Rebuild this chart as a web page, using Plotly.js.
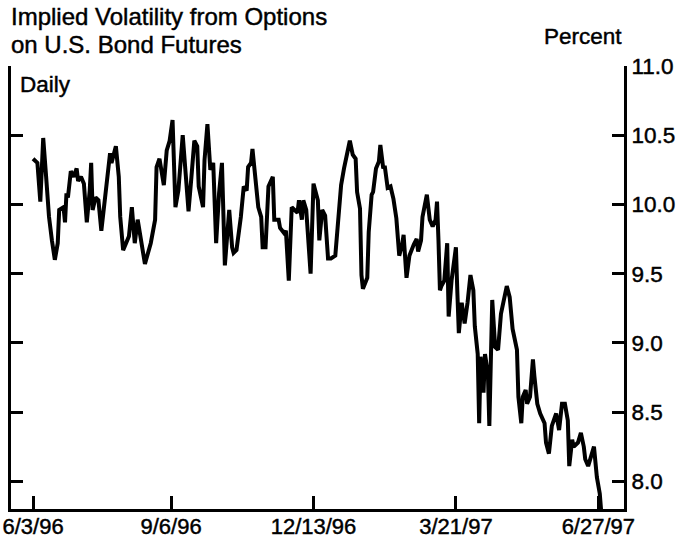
<!DOCTYPE html>
<html>
<head>
<meta charset="utf-8">
<script src="https://cdn.plot.ly/plotly-3.0.1.min.js"></script>
<style>
html,body{margin:0;padding:0;background:#fff;}
#chart{width:678px;height:540px;}
#chart svg text{stroke:#000;stroke-width:0.45px;}
</style>
</head>
<body>
<div id="chart"></div>
<script>
// Dates (daily series, sampled from the chart) and implied volatility, percent
const dates = [
"1996-06-03","1996-06-06","1996-06-08","1996-06-10","1996-06-12","1996-06-14","1996-06-16","1996-06-18","1996-06-20","1996-06-21",
"1996-06-24","1996-06-25","1996-06-26","1996-06-27","1996-06-29","1996-07-01","1996-07-03","1996-07-04","1996-07-06","1996-07-08",
"1996-07-10","1996-07-12","1996-07-13","1996-07-14","1996-07-16","1996-07-18","1996-07-20","1996-07-22","1996-07-24","1996-07-26",
"1996-07-27","1996-07-30","1996-08-01","1996-08-02","1996-08-04","1996-08-06","1996-08-08","1996-08-10","1996-08-12","1996-08-14",
"1996-08-16","1996-08-19","1996-08-23","1996-08-26","1996-08-27","1996-08-29","1996-09-01","1996-09-03","1996-09-05","1996-09-07",
"1996-09-09","1996-09-11","1996-09-14","1996-09-16","1996-09-18","1996-09-20","1996-09-22","1996-09-24","1996-09-25","1996-09-28",
"1996-09-29","1996-10-01","1996-10-03","1996-10-05","1996-10-07","1996-10-09","1996-10-11","1996-10-13","1996-10-15","1996-10-16",
"1996-10-18","1996-10-19","1996-10-21","1996-10-24","1996-10-26","1996-10-28","1996-10-29","1996-10-31","1996-11-01","1996-11-03",
"1996-11-05","1996-11-07","1996-11-08","1996-11-10","1996-11-12","1996-11-15","1996-11-16","1996-11-19","1996-11-20","1996-11-23",
"1996-11-24","1996-11-26","1996-11-28","1996-11-30","1996-12-02","1996-12-03","1996-12-05","1996-12-06","1996-12-08","1996-12-11",
"1996-12-13","1996-12-16","1996-12-17","1996-12-19","1996-12-21","1996-12-23","1996-12-25","1996-12-28","1996-12-30","1997-01-01",
"1997-01-03","1997-01-05","1997-01-07","1997-01-09","1997-01-11","1997-01-12","1997-01-14","1997-01-15","1997-01-16","1997-01-19",
"1997-01-20","1997-01-22","1997-01-23","1997-01-25","1997-01-27","1997-01-28","1997-01-30","1997-01-31","1997-02-02","1997-02-04",
"1997-02-06","1997-02-08","1997-02-10","1997-02-12","1997-02-13","1997-02-15","1997-02-17","1997-02-20","1997-02-22","1997-02-23",
"1997-02-25","1997-02-26","1997-02-28","1997-03-01","1997-03-03","1997-03-05","1997-03-07","1997-03-08","1997-03-09","1997-03-10",
"1997-03-11","1997-03-13","1997-03-15","1997-03-16","1997-03-18","1997-03-21","1997-03-22","1997-03-23","1997-03-25","1997-03-27",
"1997-03-29","1997-03-31","1997-04-02","1997-04-03","1997-04-05","1997-04-06","1997-04-07","1997-04-09","1997-04-10","1997-04-12",
"1997-04-13","1997-04-15","1997-04-17","1997-04-19","1997-04-21","1997-04-24","1997-04-25","1997-04-27","1997-04-29","1997-05-02",
"1997-05-03","1997-05-05","1997-05-06","1997-05-08","1997-05-09","1997-05-11","1997-05-13","1997-05-14","1997-05-16","1997-05-18",
"1997-05-21","1997-05-22","1997-05-24","1997-05-26","1997-05-29","1997-05-31","1997-06-02","1997-06-04","1997-06-06","1997-06-07",
"1997-06-09","1997-06-10","1997-06-13","1997-06-15","1997-06-17","1997-06-18","1997-06-20","1997-06-22","1997-06-24","1997-06-26",
"1997-06-28","1997-06-29"
];
const volatility = [
10.33,10.30,10.02,10.48,10.20,9.91,9.74,9.60,9.72,9.96,
9.98,9.87,10.08,10.05,10.24,10.20,10.26,10.17,10.20,10.15,
9.87,10.10,10.30,9.96,10.05,10.03,9.81,9.98,10.15,10.37,
10.30,10.42,10.20,9.91,9.67,9.72,9.77,9.98,9.72,9.89,
9.77,9.57,9.72,9.89,10.27,10.33,10.14,10.39,10.46,10.61,
9.98,10.10,10.50,10.20,9.95,10.20,10.46,10.42,10.13,9.98,
10.32,10.58,10.25,10.30,9.72,10.08,10.30,9.56,9.86,9.96,
9.69,9.65,9.67,9.91,10.13,10.10,10.27,10.30,10.40,10.15,
9.98,9.91,9.69,9.69,10.13,10.20,9.89,9.89,9.83,9.79,
9.81,9.45,9.98,9.96,9.94,10.03,9.89,10.03,9.96,9.50,
10.15,10.03,9.74,9.96,9.92,9.61,9.61,9.63,9.85,10.14,
10.26,10.36,10.46,10.36,10.33,10.09,9.97,9.49,9.39,9.47,
9.80,10.07,10.09,10.26,10.31,10.43,10.26,10.28,10.12,10.13,
10.04,9.90,9.63,9.71,9.78,9.47,9.63,9.71,9.75,9.66,
9.74,9.91,10.03,10.07,9.89,9.84,9.89,10.02,9.74,9.38,
9.41,9.45,9.72,9.19,9.45,9.69,9.36,9.07,9.29,9.14,
9.29,9.49,9.38,9.12,8.92,8.42,8.90,8.64,8.92,8.78,
8.40,9.31,8.97,8.95,9.21,9.36,9.41,9.33,9.10,8.95,
8.61,8.42,8.61,8.66,8.56,8.61,8.88,8.76,8.56,8.49,
8.42,8.28,8.20,8.40,8.49,8.37,8.56,8.56,8.44,8.11,
8.30,8.25,8.28,8.35,8.25,8.16,8.11,8.18,8.25,8.03,
7.91,7.78
];
const xTickVals = ["1996-06-03","1996-09-06","1996-12-13","1997-03-21","1997-06-27"];
const xTickText = ["6/3/96","9/6/96","12/13/96","3/21/97","6/27/97"];
const yTickVals = [8.0,8.5,9.0,9.5,10.0,10.5,11.0];

const FONT = '"Liberation Sans", Arial, Helvetica, sans-serif';
const FS = 22.5;
const FS_TITLE = 24;

const trace = {
  type: 'scatter',
  mode: 'lines',
  x: dates,
  y: volatility,
  line: {color: '#000', width: 4},
  hoverinfo: 'skip'
};

const layout = {
  width: 678,
  height: 540,
  margin: {l: 11, r: 54, t: 66, b: 31, pad: 0},
  paper_bgcolor: '#fff',
  plot_bgcolor: '#fff',
  showlegend: false,
  font: {family: FONT, size: FS, color: '#000'},
  xaxis: {
    type: 'date',
    range: ['1996-05-18 20:00', '1997-07-14 16:00'],
    tickmode: 'array',
    tickvals: xTickVals,
    ticktext: xTickText,
    ticks: 'inside',
    ticklen: 13,
    tickwidth: 3,
    tickcolor: '#000',
    ticklabelstandoff: -4,
    showline: true,
    linecolor: '#000',
    linewidth: 3,
    mirror: false,
    showgrid: false,
    zeroline: false,
    tickfont: {family: FONT, size: 22, color: '#000'}
  },
  yaxis: {
    side: 'right',
    range: [7.8, 11.0],
    tickmode: 'array',
    tickvals: yTickVals,
    tickformat: '.1f',
    ticks: 'inside',
    ticklen: 12,
    tickwidth: 3,
    tickcolor: '#000',
    showline: true,
    linecolor: '#000',
    linewidth: 3,
    mirror: 'ticks',
    showgrid: false,
    zeroline: false,
    tickfont: {family: FONT, size: FS, color: '#000'}
  },
  annotations: [
    {text: 'Implied Volatility from Options', xref: 'paper', yref: 'paper',
     x: -0.003, y: (509.5 - 1) / 443.5, xanchor: 'left', yanchor: 'top', showarrow: false,
     font: {family: FONT, size: FS_TITLE, color: '#000'}},
    {text: 'on U.S. Bond Futures', xref: 'paper', yref: 'paper',
     x: -0.003, y: (509.5 - 29) / 443.5, xanchor: 'left', yanchor: 'top', showarrow: false,
     font: {family: FONT, size: FS_TITLE, color: '#000'}},
    {text: 'Percent', xref: 'paper', yref: 'paper',
     x: 1.0, y: (509.5 - 22) / 443.5, xanchor: 'right', yanchor: 'top', showarrow: false,
     font: {family: FONT, size: FS, color: '#000'}},
    {text: 'Daily', xref: 'paper', yref: 'paper',
     x: 0.011, y: (509.5 - 70) / 443.5, xanchor: 'left', yanchor: 'top', showarrow: false,
     font: {family: FONT, size: FS, color: '#000'}}
  ]
};

Plotly.newPlot('chart', [trace], layout, {staticPlot: true, displayModeBar: false});
</script>
</body>
</html>
